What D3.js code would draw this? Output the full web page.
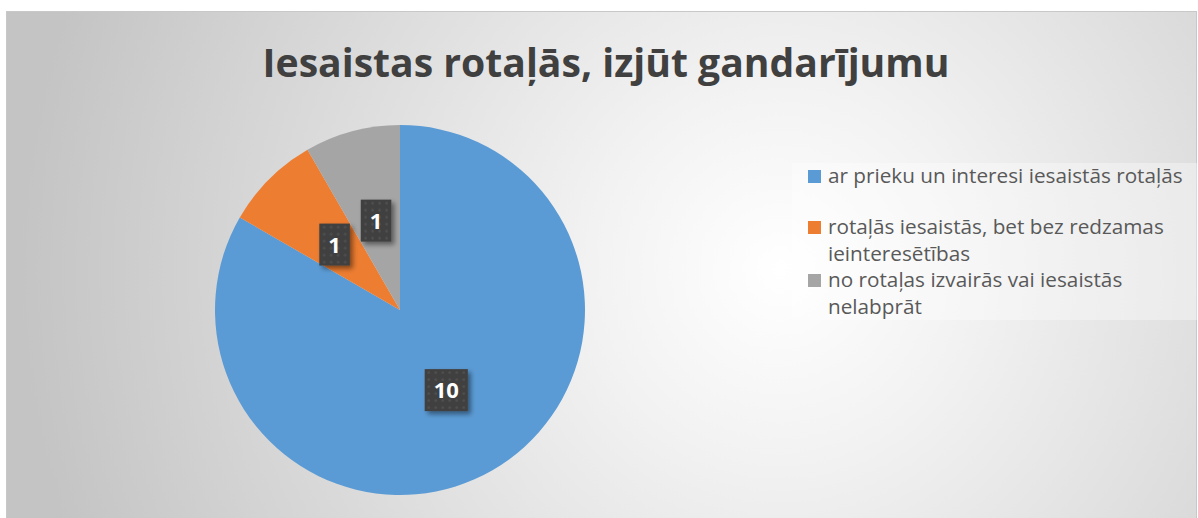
<!DOCTYPE html>
<meta charset="utf-8">
<script src="https://d3js.org/d3.v7.min.js"></script>
<head>
<style>
  body { margin: 0; background: #fff; }
  text { font-family: "Open Sans", "Noto Sans", sans-serif; }
</style>
</head>
<body>
<div id="my_dataviz"></div>

<script>
// chart data
var title = "Iesaistas rotaļās, izjūt gandarījumu";
var categories = [
  "ar prieku un interesi iesaistās rotaļās",
  "rotaļās iesaistās, bet bez redzamas ieinteresētības",
  "no rotaļas izvairās vai iesaistās nelabprāt"
];
var values = [10, 1, 1];
var colors = ["#5b9bd5", "#ed7d31", "#a5a5a5"];

var W = 1198, H = 518;

var svg = d3.select("#my_dataviz")
  .append("svg")
    .attr("width", W)
    .attr("height", H);

var defs = svg.append("defs");

// background gradient
var bg = defs.append("radialGradient")
    .attr("id", "bg")
    .attr("gradientUnits", "userSpaceOnUse")
    .attr("cx", 780).attr("cy", 270).attr("r", 760);
bg.append("stop").attr("offset", "0%").attr("stop-color", "#ffffff");
bg.append("stop").attr("offset", "25%").attr("stop-color", "#f2f2f2");
bg.append("stop").attr("offset", "100%").attr("stop-color", "#c4c4c4");

// dotted pattern for label boxes
var pat = defs.append("pattern")
    .attr("id", "dots")
    .attr("patternUnits", "userSpaceOnUse")
    .attr("width", 7).attr("height", 7);
pat.append("rect").attr("width", 7).attr("height", 7).attr("fill", "#404040");
pat.append("circle").attr("cx", 3.5).attr("cy", 3.5).attr("r", 1.2).attr("fill", "#525252");

var shadow = defs.append("filter").attr("id", "shadow")
    .attr("x", "-30%").attr("y", "-30%").attr("width", "170%").attr("height", "170%");
shadow.append("feDropShadow")
    .attr("dx", 3).attr("dy", 3).attr("stdDeviation", 2.5)
    .attr("flood-color", "#000").attr("flood-opacity", 0.45);

// chart area
svg.append("rect")
    .attr("x", 6.5).attr("y", 11.5)
    .attr("width", 1190).attr("height", 520)
    .attr("fill", "url(#bg)")
    .attr("stroke", "#c8c8c8");

// title
var titleText = svg.append("text")
    .attr("x", 606)
    .attr("y", 77)
    .attr("text-anchor", "middle")
    .style("font-weight", "bold")
    .style("font-size", "42px")
    .style("fill", "#404040")
    .text(title);
var tw = titleText.node().getComputedTextLength();
titleText.style("font-size", (42 * 687 / tw) + "px");

// pie
var cx = 400, cy = 310, radius = 185;
var pie = d3.pie().sort(null).value(function(d) { return d; });
var arc = d3.arc().innerRadius(0).outerRadius(radius);
var arcs = pie(values);

var g = svg.append("g").attr("transform", "translate(" + cx + "," + cy + ")");

g.selectAll("path")
  .data(arcs)
  .enter()
  .append("path")
    .attr("d", arc)
    .attr("fill", function(d, i) { return colors[i]; });

// data labels
var labels = g.selectAll("g.lbl")
  .data(arcs)
  .enter()
  .append("g")
    .attr("class", "lbl")
    .attr("transform", function(d) {
      var c = arc.centroid(d);
      return "translate(" + c[0] + "," + c[1] + ")";
    });

labels.each(function(d) {
  var lg = d3.select(this);
  var box = lg.append("rect");
  var t = lg.append("text")
      .attr("text-anchor", "middle")
      .attr("dy", "0.36em")
      .style("font-weight", "bold")
      .style("font-size", "22px")
      .style("fill", "#ffffff")
      .text(d.data);
  var w = t.node().getComputedTextLength() + 18;
  box.attr("x", -w / 2).attr("y", -21)
     .attr("width", w).attr("height", 42)
     .attr("fill", "url(#dots)")
     .attr("filter", "url(#shadow)");
});

// legend
var legend = svg.append("g");
legend.append("rect")
    .attr("x", 792).attr("y", 163)
    .attr("width", 410).attr("height", 157)
    .attr("fill", "#ffffff")
    .attr("fill-opacity", 0.35);

// size the legend font so the first entry is as wide as in the picture
var probe = legend.append("text").style("font-size", "20px").text(categories[0]);
var legendFont = 20 * 355 / probe.node().getComputedTextLength();
probe.remove();

var maxW = 362, lineH = 26.5;
var rowY = [176, 227, 280];

categories.forEach(function(c, i) {
  legend.append("rect")
      .attr("x", 808).attr("y", rowY[i] - 6)
      .attr("width", 13).attr("height", 13)
      .attr("fill", colors[i]);
  var t = legend.append("text")
      .attr("x", 828)
      .attr("y", rowY[i])
      .attr("dy", "0.36em")
      .style("font-size", legendFont + "px")
      .style("fill", "#595959");
  // wrap words into lines
  var words = c.split(" "), line = [];
  var ts = t.append("tspan").attr("x", 828);
  words.forEach(function(w) {
    line.push(w);
    ts.text(line.join(" "));
    if (ts.node().getComputedTextLength() > maxW && line.length > 1) {
      line.pop();
      ts.text(line.join(" "));
      line = [w];
      ts = t.append("tspan").attr("x", 828).attr("dy", lineH).text(w);
    }
  });
});
</script>
</body>
